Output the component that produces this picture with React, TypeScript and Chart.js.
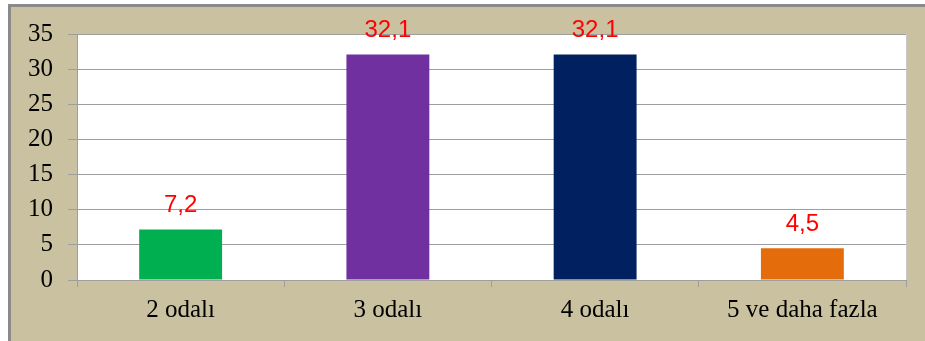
import React, { useEffect, useRef } from "react";
import { Chart, registerables } from "chart.js";

Chart.register(...registerables);

const categories = ["2 odalı", "3 odalı", "4 odalı", "5 ve daha fazla"];
const values = [7.2, 32.1, 32.1, 4.5];
const barColors = ["#00B050", "#7030A0", "#002060", "#E46C0A"];
const yTicks = [0, 5, 10, 15, 20, 25, 30, 35];

const W = 925;
const H = 341;

export default function App() {
  const ref = useRef<HTMLCanvasElement | null>(null);

  useEffect(() => {
    if (!ref.current) return;
    const bgPlugin = {
      id: "plotBg",
      beforeDraw(chart: any) {
        const { ctx, chartArea: a } = chart;
        ctx.save();
        ctx.fillStyle = "#FFFFFF";
        ctx.fillRect(a.left, a.top, a.right - a.left, a.bottom - a.top);
        ctx.strokeStyle = "#C8C8C8";
        ctx.lineWidth = 1;
        ctx.beginPath();
        ctx.moveTo(Math.round(a.right) + 0.5, a.top);
        ctx.lineTo(Math.round(a.right) + 0.5, a.bottom);
        ctx.stroke();
        ctx.restore();
      },
    };
    const labelPlugin = {
      id: "valLabels",
      afterDatasetsDraw(chart: any) {
        const { ctx } = chart;
        const meta = chart.getDatasetMeta(0);
        ctx.save();
        ctx.fillStyle = "#FF0000";
        ctx.font = '24px "Liberation Sans", Arial, sans-serif';
        ctx.textAlign = "center";
        ctx.textBaseline = "alphabetic";
        meta.data.forEach((el: any, i: number) => {
          const txt = values[i].toFixed(1).replace(".", ",");
          ctx.fillText(txt, el.x, el.y - 17);
        });
        ctx.restore();
      },
    };
    const chart = new Chart(ref.current, {
      type: "bar",
      data: {
        labels: categories,
        datasets: [
          {
            data: values,
            backgroundColor: barColors,
            borderWidth: 0,
            barPercentage: 0.4,
            categoryPercentage: 1,
          },
        ],
      },
      options: {
        responsive: false,
        animation: false,
        layout: { padding: { top: 34, right: 19, left: 0, bottom: 0 } },
        plugins: { legend: { display: false }, tooltip: { enabled: false } },
        scales: {
          x: {
            afterFit(scale: any) {
              scale.height = 61;
            },
            grid: {
              offset: true,
              drawOnChartArea: false,
              drawTicks: true,
              tickLength: 7,
              color: "#9E9E9E",
            },
            border: { display: true, color: "#9E9E9E" },
            ticks: {
              color: "#000000",
              font: { family: '"Liberation Serif", "Times New Roman", serif', size: 25 },
              padding: 8,
              maxRotation: 0,
              autoSkip: false,
            },
          },
          y: {
            min: 0,
            max: 35,
            afterFit(scale: any) {
              scale.width = 77;
            },
            afterBuildTicks(scale: any) {
              scale.ticks = yTicks.map((v) => ({ value: v }));
            },
            grid: { color: "#9E9E9E", tickLength: 9 },
            border: { display: true, color: "#9E9E9E" },
            ticks: {
              color: "#000000",
              font: { family: '"Liberation Serif", "Times New Roman", serif', size: 25 },
              padding: 15,
            },
          },
        },
      },
      plugins: [bgPlugin, labelPlugin],
    });
    return () => chart.destroy();
  }, []);

  return (
    <div style={{ position: "absolute", left: 0, top: 0, width: W, height: H, background: "#FFFFFF", overflow: "hidden" }}>
      <div
        style={{
          position: "absolute",
          left: 8,
          top: 4,
          right: 0,
          bottom: 0,
          background: "#C9C19F",
          borderTop: "3px solid #8A8A8A",
          borderLeft: "3px solid #8A8A8A",
        }}
      />
      <canvas ref={ref} width={W} height={H} style={{ position: "absolute", left: 0, top: 0 }} />
    </div>
  );
}
